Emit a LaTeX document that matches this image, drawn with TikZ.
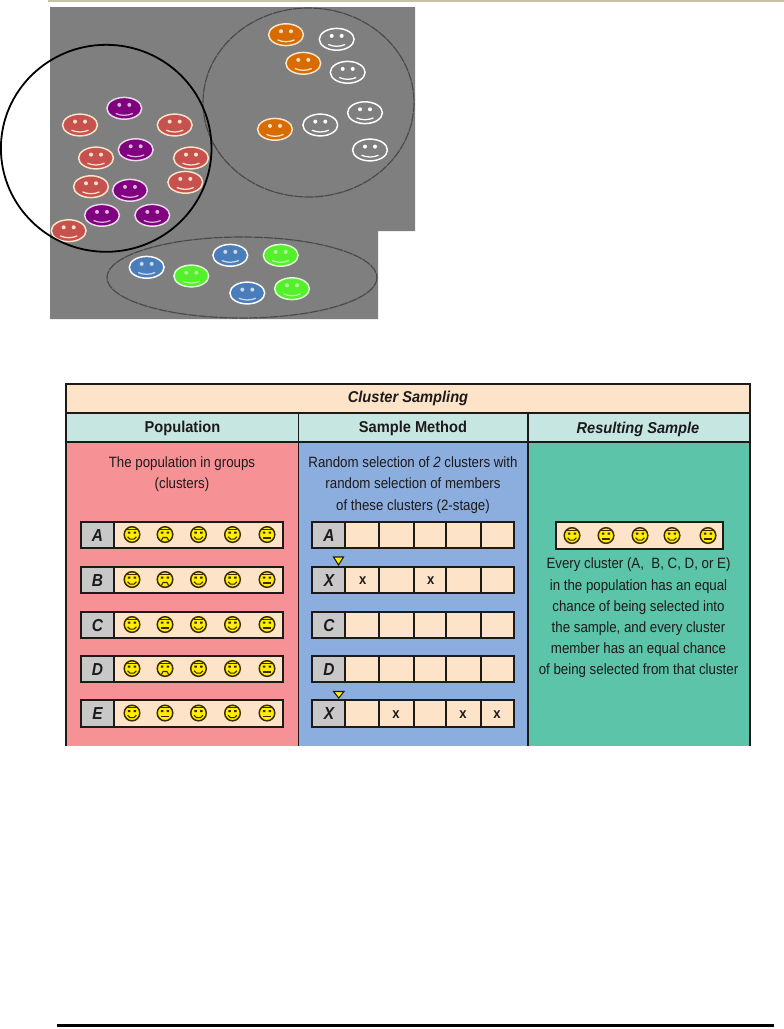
\documentclass[tikz,border=0pt]{standalone}
\usepackage{fontspec}
\setmainfont{Liberation Sans}
\newfontfamily\cf[FakeStretch=0.89]{Liberation Sans}
\newfontfamily\cfh[FakeStretch=0.93]{Liberation Sans}
\definecolor{barc}{HTML}{C6C2A8}
\definecolor{grayb}{HTML}{7F7F7F}
\definecolor{ringc}{HTML}{4A4A4A}
\definecolor{orangef}{HTML}{D96C00}
\definecolor{redf}{HTML}{C7514E}
\definecolor{purplef}{HTML}{800080}
\definecolor{bluef}{HTML}{4A7EBB}
\definecolor{greenf}{HTML}{55F02C}
\definecolor{titlec}{HTML}{FDE4C8}
\definecolor{headc}{HTML}{C6E6E2}
\definecolor{popc}{HTML}{F69296}
\definecolor{midc}{HTML}{8CAEDE}
\definecolor{resc}{HTML}{5CC4A8}
\definecolor{cellc}{HTML}{FDE4C8}
\definecolor{labc}{HTML}{C8C8C8}
\definecolor{inkc}{HTML}{1E1A1A}
\definecolor{facec}{HTML}{FFEE00}
\definecolor{faceln}{HTML}{3A2A00}
\tikzset{
  x=0.75pt,y=-0.75pt,
  cellbox/.style={draw=inkc,fill=cellc,line width=1pt},
  labbox/.style={draw=inkc,fill=labc,line width=1pt},
  bodytxt/.style={font=\cf\fontsize{11.2}{15.9}\selectfont,text=inkc,align=center,inner sep=0pt},
  headtxt/.style={font=\cfh\bfseries\fontsize{11.8}{14}\selectfont,text=inkc,inner sep=0pt},
  headital/.style={font=\cfh\bfseries\itshape\fontsize{11.8}{14}\selectfont,text=inkc,inner sep=0pt},
  rowlab/.style={font=\cf\bfseries\itshape\fontsize{13}{14}\selectfont,text=inkc,inner sep=0pt},
  markx/.style={font=\cf\bfseries\fontsize{11}{12}\selectfont,text=inkc,inner sep=0pt},
  ring/.style={draw=ringc,line width=0.9pt,dash pattern=on 7pt off 0.6pt},
  pick/.style={fill=facec,draw=inkc,line width=0.8pt},
}
% large smiley: x, y, fill, outline, feature colour
\newcommand{\bigface}[5]{%
  \begin{scope}[shift={(#1,#2)}]
    \path[fill=#3,draw=#4,line width=1.1pt] (0,0) ellipse [x radius=17.4,y radius=10.9];
    \fill[#5] (-5,-3.4) circle [radius=2] (5,-3.4) circle [radius=2];
    \draw[#5,line width=0.95pt] (-8.5,5.2) .. controls (-3,7.6) and (3,7.6) .. (8.5,5.2);
  \end{scope}}
% small smiley: x, y, mouth type (s smile, f frown, n flat)
\newcommand{\smallface}[3]{%
  \begin{scope}[shift={(#1,#2)}]
    \path[fill=facec,draw=faceln,line width=1.1pt] (0,0) circle [radius=7.8];
    \draw[faceln,line width=0.8pt] (-4.6,-5.4) -- (4.6,-5.4);
    \fill[faceln] (-4.2,-3) rectangle (-1.7,-0.8) (1.7,-3) rectangle (4.2,-0.8);
    \if#3s\draw[faceln,line width=0.8pt] (-4.4,2.2) -- (-2,4.6) -- (2,4.6) -- (4.4,2.2);\fi
    \if#3f\draw[faceln,line width=0.8pt] (-3.6,6) -- (-2,3) -- (2,3) -- (3.6,6);\fi
    \if#3n\draw[faceln,line width=1pt] (-4.4,3.4) -- (4.4,3.4);\fi
  \end{scope}}
\begin{document}
\begin{tikzpicture}
\useasboundingbox (0,0) rectangle (784,1029);
% top rule
\fill[barc] (48,0) rectangle (784,2.2);
% gray photo area
\fill[grayb] (50,7) -- (415,7) -- (415,231) -- (378,231) -- (378,319) -- (50,319) -- cycle;
% cluster rings
\draw[ring] (308.5,102.5) ellipse [x radius=105.5,y radius=94.5];
\draw[ring] (242,277.5) ellipse [x radius=135,y radius=40.5];
% big smileys
\foreach \a/\b in {286/34.7,303.3/63.3,275/129.3}
  {\bigface{\a}{\b}{orangef}{titlec}{titlec}}
\foreach \a/\b in {336.7/39.3,347.7/72.3,365/112.7,320.3/125,370/150}
  {\bigface{\a}{\b}{grayb}{white}{white}}
\foreach \a/\b in {80/125,174.7/125,96/158,191/158,91/186.7,185.3/182.3,68.7/230.7}
  {\bigface{\a}{\b}{redf}{titlec}{titlec}}
\foreach \a/\b in {124.3/108.3,135.7/149.7,130/190.3,102/215.3,152.3/215.3}
  {\bigface{\a}{\b}{purplef}{white!85!purplef}{white!70!purplef}}
\foreach \a/\b in {146.7/267.3,230.3/255.3,247.3/293}
  {\bigface{\a}{\b}{bluef}{white}{white!70!bluef}}
\foreach \a/\b in {191.3/276,280.7/255.3,292/288.7}
  {\bigface{\a}{\b}{greenf}{white!80!greenf}{white!55!greenf}}
% big selection circle
\draw[black,line width=1.35pt] (106.2,148.3) ellipse [x radius=105.3,y radius=103.5];
% table panels
\fill[titlec] (66,384) rectangle (750,413);
\fill[headc] (66,413) rectangle (750,442);
\fill[popc] (66,442) rectangle (298,746);
\fill[midc] (298,442) rectangle (528,746);
\fill[resc] (528,442) rectangle (750,746);
\draw[inkc,line width=0.9pt] (66,746) -- (66,384) -- (750,384) -- (750,746);
\draw[inkc,line width=0.8pt] (66,413) -- (750,413) (66,442) -- (750,442);
\draw[inkc,line width=0.5pt] (298,413) -- (298,746);
\draw[inkc,line width=0.9pt] (528,413) -- (528,746);
% headings
\node[headital] (title) at (408,398) {Cluster Sampling};
\node[headtxt] (hpop) at (182.5,428) {Population};
\node[headtxt] (hmeth) at (413,428) {Sample Method};
\node[headital] (hres) at (638,429) {Resulting Sample};
\node[bodytxt] (tpop) at (182,474.5) {The population in groups\\(clusters)};
\node[bodytxt] (tmeth) at (413,485) {Random selection of \textit{2} clusters with\\random selection of members\\of these clusters (2-stage)};
\node[bodytxt] (tres) at (638.5,618) {Every cluster (A,\ \ B, C, D, or E)\\in the population has an equal\\chance of being selected into\\the sample, and every cluster\\member has an equal chance\\of being selected from that cluster};
% population rows
\foreach \t/\h/\l/\ma/\mb/\mc/\md/\me in {522/548/A/s/f/s/s/n,567/593/B/s/f/s/s/n,612/638/C/s/n/s/s/n,656/682/D/s/f/s/s/n,700/727/E/s/n/s/s/n}{
  \pgfmathsetmacro{\cy}{(\t+\h)/2-0.5}
  \draw[cellbox] (81,\t) rectangle (283,\h);
  \draw[labbox] (81,\t) rectangle (114,\h);
  \node[rowlab] (pl\l) at (97.5,\cy+1) {\l};
  \smallface{132}{\cy}{\ma}
  \smallface{165}{\cy}{\mb}
  \smallface{198.5}{\cy}{\mc}
  \smallface{232.5}{\cy}{\md}
  \smallface{267}{\cy}{\me}
}
% sample method rows
\foreach \t/\h/\l/\n in {522/548/A/a,567/593/X/b,612/638/C/c,656/682/D/d,700/727/X/e}{
  \pgfmathsetmacro{\cy}{(\t+\h)/2+0.5}
  \draw[cellbox] (312,\t) rectangle (514,\h);
  \draw[inkc,line width=1pt] (379,\t) -- (379,\h) (414,\t) -- (414,\h) (446,\t) -- (446,\h) (481,\t) -- (481,\h);
  \draw[labbox] (312,\t) rectangle (345,\h);
  \node[rowlab] (ml\n) at (329,\cy) {\l};
}
\node[markx] (xb1) at (362.7,581) {x};
\node[markx] (xb2) at (430.7,581) {x};
\node[markx] (xe1) at (396,714.5) {x};
\node[markx] (xe2) at (463,714.5) {x};
\node[markx] (xe3) at (497,714.5) {x};
\path[pick] (333.5,557) -- (343.5,557) -- (338.5,565) -- cycle;
\path[pick] (333.5,691.5) -- (344,691.5) -- (338.7,698) -- cycle;
% resulting sample box
\draw[cellbox] (556,522) rectangle (723,549);
\smallface{572}{535.5}{s}
\smallface{606}{535.5}{n}
\smallface{640}{535.5}{s}
\smallface{672}{535.5}{s}
\smallface{708}{535.5}{n}
% bottom rule
\fill[black] (57,1024) rectangle (774,1027);
\end{tikzpicture}
\end{document}
